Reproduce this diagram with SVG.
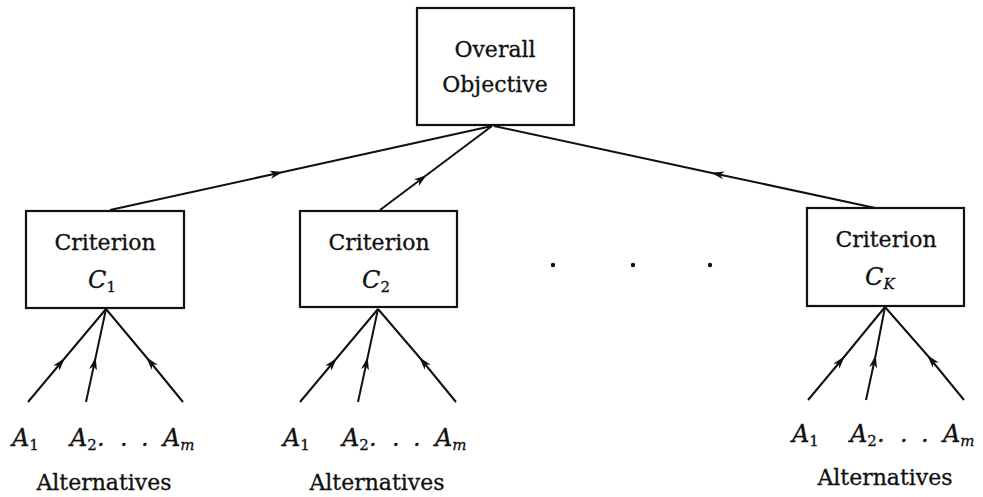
<svg xmlns="http://www.w3.org/2000/svg" width="983" height="497" viewBox="0 0 983 497">
<style>
.box{fill:#fff;stroke:#111;stroke-width:2.2}
.t{font-family:"DejaVu Serif",serif;font-size:22px;fill:#111;stroke:#111;stroke-width:0.3;text-anchor:middle}
.m{font-family:"DejaVu Serif",serif;font-style:italic;font-size:24px;fill:#111;stroke:#111;stroke-width:0.3}
.sub{font-size:15px;font-style:normal}
.subi{font-size:15px}
.c{fill:none;stroke:#111;stroke-width:2;marker-mid:url(#ah)}
</style>
<defs>
<marker id="ah" viewBox="-12 -5 14 10" markerWidth="14" markerHeight="10" refX="0" refY="0" orient="auto" markerUnits="userSpaceOnUse">
<path d="M-12,-4 L1,0 L-12,4 L-8.5,0 Z" fill="#111"/>
</marker>
</defs>
<rect width="983" height="497" fill="#fff"/>
<g id="connectors">
<path class="c" d="M110,210 L282,172.2 L492,126"/>
<path class="c" d="M380,210 L426,175.5 L492,126"/>
<path class="c" d="M880,209 L712,172.9 L494,126"/>
<path class="c" d="M28,402 L64,359 L106,309"/>
<path class="c" d="M86,402 L95.5,358 L106,309"/>
<path class="c" d="M183,402 L147,358 L106,309"/>
<path class="c" d="M300,402 L336,359 L378,309"/>
<path class="c" d="M358,402 L367.5,358 L378,309"/>
<path class="c" d="M456,402 L420,358 L378,309"/>
<path class="c" d="M808,400 L844,357 L885,307"/>
<path class="c" d="M866,400 L875.5,356 L885,307"/>
<path class="c" d="M964,400 L928,356 L885,307"/>
</g>
<g id="objective">
<rect class="box" x="417" y="8" width="157" height="117"/>
<text class="t" x="495" y="57">Overall</text>
<text class="t" x="495" y="92">Objective</text>
</g>
<g id="criterion1" transform="translate(26,211)">
<rect class="box" x="0" y="0" width="158" height="97"/>
<text class="t" x="79" y="39">Criterion</text>
<text class="m" x="62" y="77">C<tspan class="sub" dy="4">1</tspan></text>
</g>
<g id="criterion2" transform="translate(300,211)">
<rect class="box" x="0" y="0" width="157" height="96"/>
<text class="t" x="79" y="39">Criterion</text>
<text class="m" x="62" y="77">C<tspan class="sub" dy="4">2</tspan></text>
</g>
<g id="criterionK" transform="translate(807,208)">
<rect class="box" x="0" y="0" width="157" height="98"/>
<text class="t" x="79" y="39">Criterion</text>
<text class="m" x="58" y="77">C<tspan class="subi" dy="4">K</tspan></text>
</g>
<g id="alternatives1" transform="translate(26,211)">
<text class="m" x="-14" y="235">A<tspan class="sub" dy="4">1</tspan></text>
<text class="m" x="44" y="235">A<tspan class="sub" dy="4">2</tspan><tspan dy="-4">.</tspan></text>
<text class="m" x="94" y="235">.</text>
<text class="m" x="115" y="235">.</text>
<text class="m" x="137" y="235">A<tspan class="subi" dy="4">m</tspan></text>
<text class="t" x="78" y="279">Alternatives</text>
</g>
<g id="alternatives2" transform="translate(300,211)">
<text class="m" x="-17" y="235">A<tspan class="sub" dy="4">1</tspan></text>
<text class="m" x="42" y="235">A<tspan class="sub" dy="4">2</tspan><tspan dy="-4">.</tspan></text>
<text class="m" x="92" y="235">.</text>
<text class="m" x="113" y="235">.</text>
<text class="m" x="135" y="235">A<tspan class="subi" dy="4">m</tspan></text>
<text class="t" x="77" y="279">Alternatives</text>
</g>
<g id="alternativesK" transform="translate(807,208)">
<text class="m" x="-15" y="234">A<tspan class="sub" dy="4">1</tspan></text>
<text class="m" x="43" y="234">A<tspan class="sub" dy="4">2</tspan><tspan dy="-4">.</tspan></text>
<text class="m" x="93" y="234">.</text>
<text class="m" x="114" y="234">.</text>
<text class="m" x="136" y="234">A<tspan class="subi" dy="4">m</tspan></text>
<text class="t" x="78" y="277">Alternatives</text>
</g>
<g id="ellipsis">
<circle cx="553" cy="265" r="2.2" fill="#111"/>
<circle cx="633" cy="265" r="2.2" fill="#111"/>
<circle cx="710" cy="265" r="2.2" fill="#111"/>
</g>
</svg>
